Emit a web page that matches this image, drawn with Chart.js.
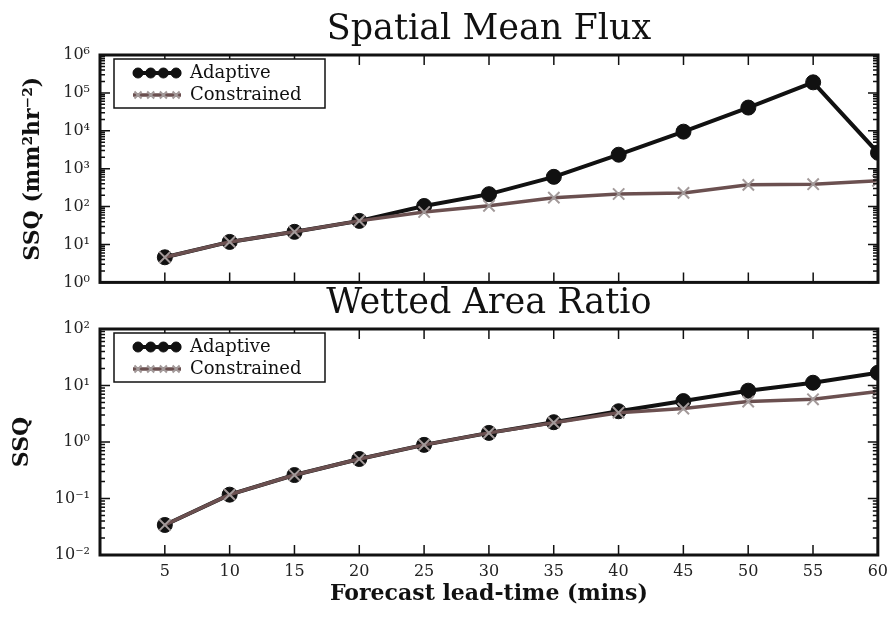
<!DOCTYPE html>
<html>
<head>
<meta charset="utf-8">
<title>SSQ vs forecast lead-time</title>
<script src="https://cdn.jsdelivr.net/npm/chart.js@4.4.1/dist/chart.umd.min.js"></script>
<style>
  html, body { margin: 0; padding: 0; background: #fff; }
  #wrap { position: relative; width: 895px; height: 618px; overflow: hidden; }
  canvas { position: absolute; left: 0; }
  #fluxChart { top: 0; }
  #warChart { top: 270px; }
</style>
</head>
<body>
<div id="wrap">
  <canvas id="fluxChart" width="895" height="302"></canvas>
  <canvas id="warChart" width="895" height="348"></canvas>
</div>
<script>
const leadTimes = [5, 10, 15, 20, 25, 30, 35, 40, 45, 50, 55, 60];

// spatial mean flux SSQ (mm^2 hr^-2)
const fluxAdaptive = [4.6, 11.7, 21.6, 42, 104, 213, 610, 2340, 9500, 41000, 190000, 2630];
const fluxConstrained = [4.6, 11.7, 21.6, 42, 72, 105, 172, 215, 230, 375, 390, 480];

// wetted area ratio SSQ
const warAdaptive = [0.034, 0.117, 0.26, 0.5, 0.89, 1.45, 2.24, 3.5, 5.3, 8.1, 11.2, 16.8];
const warConstrained = [0.034, 0.117, 0.26, 0.5, 0.89, 1.45, 2.2, 3.3, 3.9, 5.2, 5.7, 7.8];

const fluxDecades = [1, 10, 100, 1e3, 1e4, 1e5, 1e6];
const warDecades = [0.01, 0.1, 1, 10, 100];

const serif = "'DejaVu Serif', 'Liberation Serif', serif";
const ink = "#111";

const SUP = { "-": "\u207B", "0": "\u2070", "1": "\u00B9", "2": "\u00B2", "3": "\u00B3", "4": "\u2074", "5": "\u2075", "6": "\u2076" };
function powerLabel(v) {
  const e = String(Math.round(Math.log10(v)));
  return "10" + e.split("").map(c => SUP[c]).join("");
}

// thick frame plus inward ticks on every side (minor ticks on the log axis)
const frameTicks = {
  id: "frameTicks",
  afterDatasetsDraw(chart) {
    const { ctx, chartArea: a } = chart;
    const x = chart.scales.x, y = chart.scales.y;
    ctx.save();
    ctx.strokeStyle = ink;
    ctx.lineWidth = 1.5;
    ctx.beginPath();
    leadTimes.forEach(v => {
      const px = x.getPixelForValue(v);
      ctx.moveTo(px, a.bottom); ctx.lineTo(px, a.bottom - 10);
      ctx.moveTo(px, a.top); ctx.lineTo(px, a.top + 10);
    });
    const lo = Math.round(Math.log10(y.min)), hi = Math.round(Math.log10(y.max));
    for (let e = lo; e <= hi; e++) {
      for (let k = 1; k < 10; k++) {
        const v = k * Math.pow(10, e);
        if (v > y.max * 1.0001) break;
        const py = y.getPixelForValue(v);
        const len = k === 1 ? 10 : 5;
        ctx.moveTo(a.left, py); ctx.lineTo(a.left + len, py);
        ctx.moveTo(a.right, py); ctx.lineTo(a.right - len, py);
      }
    }
    ctx.stroke();
    ctx.lineWidth = 3;
    ctx.strokeRect(a.left, a.top, a.right - a.left, a.bottom - a.top);
    ctx.restore();
  }
};

// framed legend in the upper-left corner, line sample with four markers
const boxLegend = {
  id: "boxLegend",
  afterDraw(chart) {
    const { ctx, chartArea: a } = chart;
    const left = a.left + 14, top = a.top + 4, w = 211, h = 49;
    ctx.save();
    ctx.fillStyle = "#fff";
    ctx.fillRect(left, top, w, h);
    ctx.strokeStyle = ink;
    ctx.lineWidth = 1.5;
    ctx.strokeRect(left, top, w, h);
    chart.data.datasets.forEach((ds, i) => {
      const cy = top + 14 + i * 22;
      ctx.strokeStyle = ds.borderColor;
      ctx.lineWidth = ds.borderWidth;
      ctx.beginPath();
      ctx.moveTo(left + 19, cy);
      ctx.lineTo(left + 67, cy);
      ctx.stroke();
      ctx.fillStyle = ds.pointBackgroundColor;
      ctx.strokeStyle = ds.pointBorderColor;
      ctx.lineWidth = ds.pointBorderWidth;
      for (let j = 0; j < 4; j++) {
        Chart.helpers.drawPoint(ctx, { pointStyle: ds.pointStyle, radius: 5, borderWidth: ds.pointBorderWidth, rotation: 0 }, left + 24 + j * 12.7, cy);
      }
      ctx.fillStyle = ink;
      ctx.font = "18px " + serif;
      ctx.textBaseline = "middle";
      ctx.textAlign = "left";
      ctx.fillText(ds.label, left + 76, cy);
    });
    ctx.restore();
  }
};

function seriesSets(adaptive, constrained) {
  return [
    {
      label: "Adaptive",
      data: leadTimes.map((t, i) => ({ x: t, y: adaptive[i] })),
      borderColor: ink, borderWidth: 4,
      pointStyle: "circle", pointRadius: 7.5,
      pointBackgroundColor: ink, pointBorderColor: ink, pointBorderWidth: 1,
      order: 2
    },
    {
      label: "Constrained",
      data: leadTimes.map((t, i) => ({ x: t, y: constrained[i] })),
      borderColor: "#6b5050", borderWidth: 3.5,
      pointStyle: "crossRot", pointRadius: 8,
      pointBackgroundColor: "#a39a9a", pointBorderColor: "#a39a9a", pointBorderWidth: 2,
      order: 1
    }
  ];
}

function ssqChart(canvas, cfg) {
  return new Chart(canvas.getContext("2d"), {
    type: "line",
    data: { datasets: seriesSets(cfg.adaptive, cfg.constrained) },
    options: {
      responsive: false,
      animation: false,
      layout: { padding: { right: 17 } },
      plugins: {
        legend: { display: false },
        tooltip: { enabled: false },
        title: {
          display: true,
          text: cfg.title,
          fullSize: false,
          color: ink,
          font: { family: serif, size: 35, weight: "normal" },
          padding: cfg.titlePad
        }
      },
      scales: {
        x: {
          type: "linear",
          min: 0,
          max: 60,
          afterBuildTicks: s => { s.ticks = leadTimes.map(v => ({ value: v })); },
          afterFit: s => { s.height = cfg.xHeight; },
          grid: { display: false, drawTicks: false },
          border: { display: false },
          ticks: { display: cfg.showX, autoSkip: false, maxRotation: 0, padding: 7, color: "#222", font: { family: serif, size: 16 } },
          title: {
            display: cfg.showX,
            text: "Forecast lead-time (mins)",
            color: ink,
            font: { family: serif, size: 22, weight: "bold" },
            padding: { top: 0, bottom: 11 }
          }
        },
        y: {
          type: "logarithmic",
          min: cfg.decades[0],
          max: cfg.decades[cfg.decades.length - 1],
          afterBuildTicks: s => { s.ticks = cfg.decades.map(v => ({ value: v })); },
          afterFit: s => { s.width = 100; },
          grid: { display: false, drawTicks: false },
          border: { display: false },
          ticks: { autoSkip: false, padding: 10, color: "#222", font: { family: serif, size: 16 }, callback: v => powerLabel(v) },
          title: {
            display: true,
            text: cfg.yTitle,
            color: ink,
            font: { family: serif, size: 22, weight: "bold" },
            padding: { top: cfg.yTitleTop, bottom: 0 }
          }
        }
      }
    },
    plugins: [frameTicks, boxLegend]
  });
}

ssqChart(document.getElementById("fluxChart"), {
  title: "Spatial Mean Flux",
  titlePad: { top: 9, bottom: 4 },
  yTitle: "SSQ (mm\u00B2hr\u207B\u00B2)",
  yTitleTop: 20,
  adaptive: fluxAdaptive,
  constrained: fluxConstrained,
  decades: fluxDecades,
  showX: false,
  xHeight: 9
});

ssqChart(document.getElementById("warChart"), {
  title: "Wetted Area Ratio",
  titlePad: { top: 13, bottom: 4 },
  yTitle: "SSQ",
  yTitleTop: 9,
  adaptive: warAdaptive,
  constrained: warConstrained,
  decades: warDecades,
  showX: true,
  xHeight: 63
});
</script>
</body>
</html>
